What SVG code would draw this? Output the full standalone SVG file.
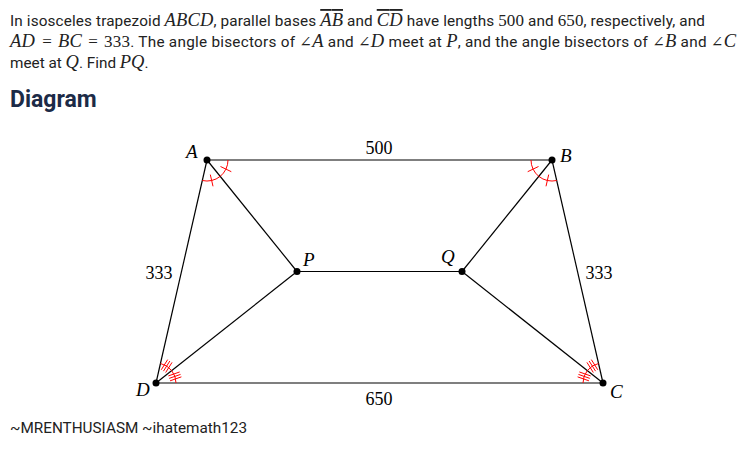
<svg xmlns="http://www.w3.org/2000/svg" width="743" height="452" viewBox="0 0 743 452">
<style>
.body{font-family:Roboto,"Liberation Sans",sans-serif;font-size:15.3px;fill:#222}
.m{font-family:"Liberation Serif","DejaVu Serif",serif;font-style:italic;font-size:18.5px}
.ov{text-decoration:overline}
.n{font-family:"Liberation Serif","DejaVu Serif",serif;font-size:17px}
.ang{font-family:"DejaVu Serif","Liberation Serif",serif;font-style:normal;font-size:15px}
.h{font-family:Roboto,"Liberation Sans",sans-serif;font-weight:bold;font-size:23px;fill:#1c2b47}
.lbl{font-family:"Liberation Serif","DejaVu Serif",serif;font-size:18px;fill:#000}
.lbli{font-family:"Liberation Serif","DejaVu Serif",serif;font-style:italic;font-size:19px;fill:#000}
.edge{stroke:#000;stroke-width:1.2;fill:none}
.mark{stroke:#f00;stroke-width:1;fill:none}
.dot{fill:#000}
</style>
<rect width="743" height="452" fill="#fff"/>
<g id="problem-text">
<text class="body" x="10" y="26" textLength="695" lengthAdjust="spacing">In isosceles trapezoid <tspan class="m">ABCD</tspan>, parallel bases <tspan class="m ov">AB</tspan> and <tspan class="m ov">CD</tspan> have lengths <tspan class="n">500</tspan> and <tspan class="n">650</tspan>, respectively, and</text>
<text class="body" x="10" y="47" textLength="726" lengthAdjust="spacing"><tspan class="m">AD</tspan><tspan class="n" dx="7">=</tspan><tspan class="m" dx="6">BC</tspan><tspan class="n" dx="6">=</tspan><tspan class="n" dx="6">333</tspan>. The angle bisectors of <tspan class="ang">∠</tspan><tspan class="m">A</tspan> and <tspan class="ang">∠</tspan><tspan class="m">D</tspan> meet at <tspan class="m">P</tspan>, and the angle bisectors of <tspan class="ang">∠</tspan><tspan class="m">B</tspan> and <tspan class="ang">∠</tspan><tspan class="m">C</tspan></text>
<text class="body" x="10" y="68">meet at <tspan class="m">Q</tspan>. Find <tspan class="m">PQ</tspan>.</text>
<text class="h" x="10" y="107">Diagram</text>
<text class="body" x="10" y="433">~MRENTHUSIASM ~ihatemath123</text>
</g>
<g id="connectors">
<line class="edge" x1="207" y1="160" x2="552" y2="160"/>
<line class="edge" x1="552" y1="160" x2="603" y2="383"/>
<line class="edge" x1="603" y1="383" x2="156" y2="383"/>
<line class="edge" x1="156" y1="383" x2="207" y2="160"/>
<line class="edge" x1="207" y1="160" x2="297" y2="271.5"/>
<line class="edge" x1="156" y1="383" x2="297" y2="271.5"/>
<line class="edge" x1="297" y1="271.5" x2="462" y2="271.5"/>
<line class="edge" x1="552" y1="160" x2="462" y2="271.5"/>
<line class="edge" x1="603" y1="383" x2="462" y2="271.5"/>
</g>
<g id="angle-marks">
<path class="mark" d="M228,160 A21,21 0 0 1 202.3,180.5"/>
<path class="mark" d="M220.5,166.5L231.3,171.7M210.3,174.6L213,186.3"/>
<path class="mark" d="M531,160 A21,21 0 0 0 556.7,180.5"/>
<path class="mark" d="M538.5,166.5L527.7,171.7M548.7,174.6L546,186.3"/>
<path class="mark" d="M176,383 A20,20 0 0 0 160.5,363.5"/>
<path class="mark" d="M169.21,378.37L180.54,374.41M170.07,380.82L181.4,376.86M168.35,375.92L179.68,371.96M163.46,371.15L169.86,361M165.66,372.54L172.06,362.39M161.26,369.76L167.66,359.61"/>
<path class="mark" d="M583,383 A20,20 0 0 1 598.5,363.5"/>
<path class="mark" d="M589.79,378.37L578.46,374.41M588.93,380.82L577.6,376.86M590.65,375.92L579.32,371.96M595.54,371.15L589.14,361M593.34,372.54L586.94,362.39M597.74,369.76L591.34,359.61"/>
</g>
<g id="node-A"><circle class="dot" cx="207" cy="160" r="3.5"/><text class="lbli" x="186" y="158">A</text></g>
<g id="node-B"><circle class="dot" cx="552" cy="160" r="3.5"/><text class="lbli" x="560" y="162">B</text></g>
<g id="node-C"><circle class="dot" cx="603" cy="383" r="3.5"/><text class="lbli" x="610" y="398">C</text></g>
<g id="node-D"><circle class="dot" cx="156" cy="383" r="3.5"/><text class="lbli" x="136" y="396">D</text></g>
<g id="node-P"><circle class="dot" cx="297" cy="271.5" r="3.5"/><text class="lbli" x="303" y="266">P</text></g>
<g id="node-Q"><circle class="dot" cx="462" cy="271.5" r="3.5"/><text class="lbli" x="441" y="263">Q</text></g>
<g id="edge-labels">
<text class="lbl" x="379" y="154" text-anchor="middle">500</text>
<text class="lbl" x="379" y="405" text-anchor="middle">650</text>
<text class="lbl" x="159" y="279" text-anchor="middle">333</text>
<text class="lbl" x="599" y="279" text-anchor="middle">333</text>
</g>
</svg>
